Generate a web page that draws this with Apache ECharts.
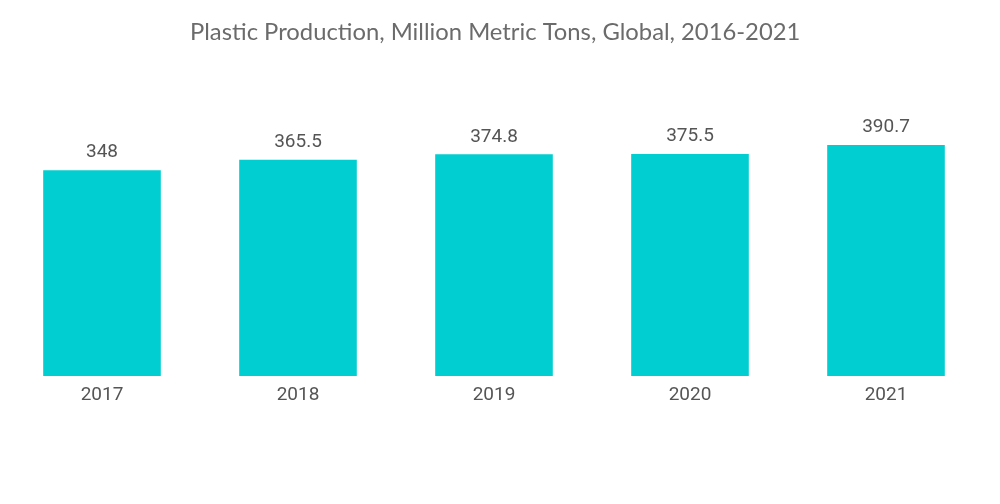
<!DOCTYPE html>
<html><head><meta charset="utf-8">
<script src="https://cdn.jsdelivr.net/npm/echarts@6/dist/echarts.min.js"></script>
<style>html,body{margin:0;padding:0;background:#fff}#c{width:1000px;height:504px}</style>
</head><body><div id="c"></div>
<script>
const categories = ['2017','2018','2019','2020','2021'];
const values = [348, 365.5, 374.8, 375.5, 390.7];
const chart = echarts.init(document.getElementById('c'));
chart.setOption({
  animation: false,
  title: {
    text: 'Plastic Production, Million Metric Tons, Global, 2016-2021',
    left: 185, top: 15,
    textStyle: {fontFamily: 'Lato', fontSize: 23.8, fontWeight: 'normal', color: '#6b6b6b'}
  },
  grid: {left: 4, right: 16, top: 139.4, bottom: 128, containLabel: false},
  xAxis: {
    type: 'category', data: categories,
    axisLine: {show: false}, axisTick: {show: false},
    axisLabel: {fontFamily: 'Roboto', fontSize: 19, color: '#555', margin: 10}
  },
  yAxis: {type: 'value', min: 0, max: 400, show: false, splitLine: {show: false}},
  series: [{
    type: 'bar', data: values, barWidth: '60%',
    itemStyle: {color: '#00CED1'},
    label: {show: true, position: 'top', distance: 8, fontFamily: 'Roboto', fontSize: 19, color: '#555'}
  }]
});
</script></body></html>
